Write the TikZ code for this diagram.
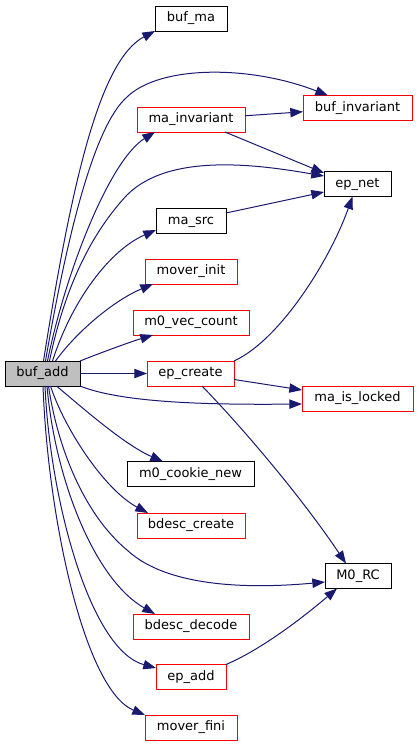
\documentclass[tikz,border=0pt]{standalone}
\usepackage{fontspec}
\setmainfont{DejaVu Sans}
\usetikzlibrary{arrows.meta,calc}
\definecolor{edgeblue}{HTML}{191970}
\definecolor{nodered}{HTML}{FF0000}
\definecolor{rootfill}{HTML}{BFBFBF}
\tikzset{
  fn/.style={draw=black, line width=0.75pt, fill=white, inner sep=0pt, outer sep=0pt,
    minimum height=18.75pt, text height=7pt, text depth=2.2pt,
    font=\fontsize{9.75pt}{11pt}\selectfont},
  undoc/.style={fn, draw=nodered},
  root/.style={fn, fill=rootfill},
  edge/.style={draw=edgeblue, line width=0.75pt, -{Triangle[length=9.5pt,width=7pt]}}
}
\begin{document}
\begin{tikzpicture}[x=0.75pt,y=-0.75pt]
\useasboundingbox (0,0) rectangle (419,747);
% nodes
\node[root,  minimum width=56.25pt] (buf_add) at (42.5,373.5) {buf\_add};
\node[fn,    minimum width=54pt]    (buf_ma) at (191,18.5) {buf\_ma};
\node[undoc, minimum width=81.75pt] (buf_invariant) at (357.5,108) {buf\_invariant};
\node[undoc, minimum width=81pt]    (ma_invariant) at (191,119.5) {ma\_invariant};
\node[fn,    minimum width=50.25pt] (ep_net) at (357.5,184) {ep\_net};
\node[fn,    minimum width=52.5pt]  (ma_src) at (191,221) {ma\_src};
\node[undoc, minimum width=69pt]    (mover_init) at (191,271.5) {mover\_init};
\node[undoc, minimum width=87pt]    (m0_vec_count) at (191,322.5) {m0\_vec\_count};
\node[undoc, minimum width=65.25pt] (ep_create) at (190.5,373.5) {ep\_create};
\node[undoc, minimum width=83.25pt] (ma_is_locked) at (357.5,398.5) {ma\_is\_locked};
\node[fn,    minimum width=95.25pt] (m0_cookie_new) at (190.5,474) {m0\_cookie\_new};
\node[undoc, minimum width=81pt]    (bdesc_create) at (191,525.5) {bdesc\_create};
\node[fn,    minimum width=49.5pt]  (M0_RC) at (358,576) {M0\_RC};
\node[undoc, minimum width=87pt]    (bdesc_decode) at (191,626.5) {bdesc\_decode};
\node[undoc, minimum width=52.5pt]  (ep_add) at (191,677) {ep\_add};
\node[undoc, minimum width=69pt]    (mover_fini) at (191,727.5) {mover\_fini};
% edges from buf_add (top)
\draw[edge] ($(buf_add.north)+(1,0)$) .. controls (72,180) and (100,60) .. (buf_ma.south west);
\draw[edge] ($(buf_add.north)+(3,0)$) .. controls (68,230) and (95,125) .. (127,97) .. controls (160,65) and (250,65) .. ($(buf_invariant.north west)+(25,0)$);
\draw[edge] ($(buf_add.north)+(5,0)$) .. controls (66,270) and (110,160) .. ($(ma_invariant.south west)+(18,0)$);
\draw[edge] ($(buf_add.north)+(7,0)$) .. controls (62,300) and (85,240) .. (127,195) .. controls (170,152) and (260,165) .. ($(ep_net.west)+(0,-8)$);
\draw[edge] ($(buf_add.north)+(10,0)$) .. controls (72,300) and (110,250) .. ($(ma_src.west)+(0,9)$);
\draw[edge] ($(buf_add.north)+(13,0)$) .. controls (78,330) and (115,300) .. ($(mover_init.south west)+(8,0)$);
\draw[edge] (buf_add.north east) .. controls (100,353) and (130,342) .. ($(m0_vec_count.south west)+(20,0)$);
\draw[edge] (buf_add) -- (ep_create);
% edges from buf_add (bottom)
\draw[edge] (buf_add.south east) .. controls (120,402) and (200,405) .. ($(ma_is_locked.west)+(0,5.5)$);
\draw[edge] ($(buf_add.south)+(14,0)$) .. controls (85,410) and (125,445) .. ($(m0_cookie_new.north west)+(36,0)$);
\draw[edge] ($(buf_add.south)+(8,0)$) .. controls (65,430) and (105,490) .. ($(bdesc_create.north west)+(11,0)$);
\draw[edge] ($(buf_add.south)+(6,0)$) .. controls (58,450) and (85,515) .. (127,550) .. controls (170,590) and (260,588) .. ($(M0_RC.west)+(0,6)$);
\draw[edge] ($(buf_add.south)+(4.5,0)$) .. controls (55,480) and (95,580) .. ($(bdesc_decode.north west)+(22,0)$);
\draw[edge] ($(buf_add.south)+(2.5,0)$) .. controls (50,500) and (90,650) .. ($(ep_add.west)+(0,-9)$);
\draw[edge] ($(buf_add.south)+(0.5,0)$) .. controls (48,520) and (85,690) .. (mover_fini.north west);
% other edges
\draw[edge] (ma_invariant) -- (buf_invariant);
\draw[edge] ($(ma_invariant.south east)+(-20,0)$) -- ($(ep_net.west)+(0,-11)$);
\draw[edge] ($(ma_src.east)+(0,-8)$) -- ($(ep_net.west)+(0,8)$);
\draw[edge] (ep_create.north east) .. controls (280,340) and (330,260) .. ($(ep_net.south)+(-5,0)$);
\draw[edge] ($(ep_create.east)+(0,6)$) -- ($(ma_is_locked.west)+(0,-8.5)$);
\draw[edge] ($(ep_create.south)+(11.5,0)$) .. controls (240,425) and (300,495) .. ($(M0_RC.north)+(-12,0)$);
\draw[edge] (ep_add.north east) .. controls (260,650) and (300,620) .. ($(M0_RC.south)+(-21,0)$);
\end{tikzpicture}
\end{document}
